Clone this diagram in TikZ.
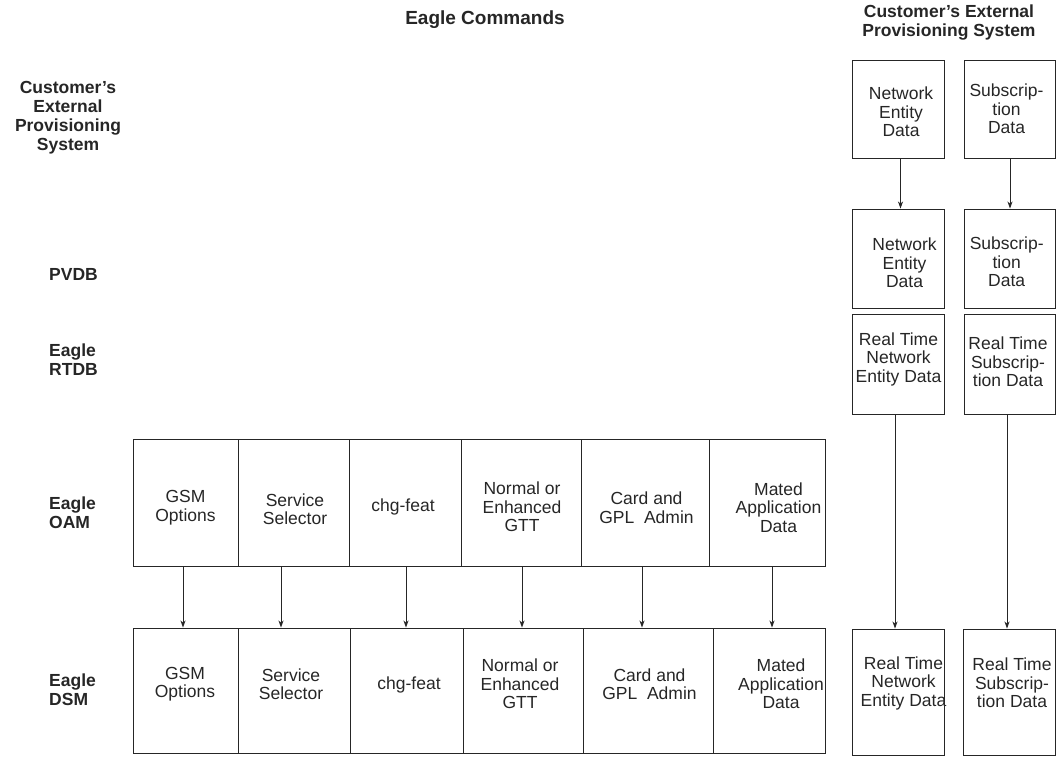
\documentclass[tikz,border=0pt]{standalone}
\usepackage{fontspec}
\setmainfont{Liberation Sans}
\usetikzlibrary{arrows.meta}
\definecolor{ink}{HTML}{262626}
\tikzset{
  cell/.style={draw=ink, line width=0.9pt, rectangle, inner sep=0pt},
  celltext/.style={text=ink, align=center, inner sep=0pt, font=\fontsize{17.5}{18.5}\selectfont},
  hdr/.style={text=ink, inner sep=0pt, font=\bfseries\fontsize{17.5}{19}\selectfont},
  arr/.style={draw=ink, line width=0.9pt, -{Stealth[length=7pt,width=5pt,inset=2pt]}}
}
\begin{document}
\begin{tikzpicture}[x=1pt,y=-1pt]
\useasboundingbox (0,0) rectangle (1062,757);

% headers
\node[hdr, font=\bfseries\fontsize{19}{20}\selectfont] (title) at (485,19.5) {Eagle Commands};
\node[hdr, align=center] (rhead) at (949,22.5) {Customer's External\\Provisioning System};
\node[hdr, align=center] (lcust) at (68,117.5) {Customer's\\External\\Provisioning\\System};
\node[hdr, align=left, anchor=west] (lpvdb) at (49,274) {PVDB};
\node[hdr, align=left, anchor=west] (lrtdb) at (49,360) {Eagle\\RTDB};
\node[hdr, align=left, anchor=west] (loam) at (49,512.5) {Eagle\\OAM};
\node[hdr, align=left, anchor=west] (ldsm) at (49,690) {Eagle\\DSM};

% OAM row cells: 133,238,349,461,581,709,825 ; y 439-566
\node[cell, minimum width=105pt, minimum height=127pt] (o1) at (185.5,502.5) {};
\node[cell, minimum width=111pt, minimum height=127pt] (o2) at (293.5,502.5) {};
\node[cell, minimum width=112pt, minimum height=127pt] (o3) at (405,502.5) {};
\node[cell, minimum width=120pt, minimum height=127pt] (o4) at (521,502.5) {};
\node[cell, minimum width=128pt, minimum height=127pt] (o5) at (645,502.5) {};
\node[cell, minimum width=116pt, minimum height=127pt] (o6) at (767,502.5) {};

\node[celltext] (to1) at (185.5,507.5) {GSM\\Options};
\node[celltext] (to2) at (295,509) {Service\\Selector};
\node[celltext] (to3) at (403,507) {chg-feat};
\node[celltext] (to4) at (522,507) {Normal or\\Enhanced\\GTT};
\node[celltext] (to5) at (646.5,507.5) {Card and\\GPL\ \ Admin};
\node[celltext] (to6) at (778.5,507.5) {Mated\\Application\\Data};

% DSM row cells: 133,238,350,463,583,713,825 ; y 628-753
\node[cell, minimum width=105pt, minimum height=125pt] (d1) at (185.5,690.5) {};
\node[cell, minimum width=112pt, minimum height=125pt] (d2) at (294,690.5) {};
\node[cell, minimum width=113pt, minimum height=125pt] (d3) at (406.5,690.5) {};
\node[cell, minimum width=120pt, minimum height=125pt] (d4) at (523,690.5) {};
\node[cell, minimum width=130pt, minimum height=125pt] (d5) at (648,690.5) {};
\node[cell, minimum width=112pt, minimum height=125pt] (d6) at (769,690.5) {};

\node[celltext] (td1) at (185,684) {GSM\\Options};
\node[celltext] (td2) at (291,684) {Service\\Selector};
\node[celltext] (td3) at (409,685) {chg-feat};
\node[celltext] (td4) at (520,684) {Normal or\\Enhanced\\GTT};
\node[celltext] (td5) at (649.5,684) {Card and\\GPL\ \ Admin};
\node[celltext] (td6) at (781,684) {Mated\\Application\\Data};

% OAM -> DSM arrows
\draw[arr] ([xshift=-2.5pt]o1.south) -- ([xshift=-2.5pt]o1.south |- d1.north);
\draw[arr] ([xshift=-12.5pt]o2.south) -- ([xshift=-12.5pt]o2.south |- d2.north);
\draw[arr] ([xshift=1pt]o3.south) -- ([xshift=1pt]o3.south |- d3.north);
\draw[arr] ([xshift=1pt]o4.south) -- ([xshift=1pt]o4.south |- d4.north);
\draw[arr] ([xshift=-3pt]o5.south) -- ([xshift=-3pt]o5.south |- d5.north);
\draw[arr] ([xshift=5pt]o6.south) -- ([xshift=5pt]o6.south |- d6.north);

% right columns
\node[cell, minimum width=92pt, minimum height=98pt] (ce1) at (898,109) {};
\node[cell, minimum width=91pt, minimum height=98pt] (ce2) at (1009.5,109) {};
\node[cell, minimum width=92pt, minimum height=99pt] (pv1) at (898,258.5) {};
\node[cell, minimum width=91pt, minimum height=99pt] (pv2) at (1009.5,258.5) {};
\node[cell, minimum width=92pt, minimum height=100pt] (rt1) at (898,364) {};
\node[cell, minimum width=91pt, minimum height=100pt] (rt2) at (1009.5,364) {};
\node[cell, minimum width=92pt, minimum height=126pt] (ds1) at (898,692) {};
\node[cell, minimum width=92pt, minimum height=126pt] (ds2) at (1009.5,692) {};

\node[celltext] (tce1) at (901,112) {Network\\Entity\\Data};
\node[celltext] (tce2) at (1006.5,109) {Subscrip-\\tion\\Data};
\node[celltext] (tpv1) at (904.5,263) {Network\\Entity\\Data};
\node[celltext] (tpv2) at (1006.7,262) {Subscrip-\\tion\\Data};
\node[celltext] (trt1) at (898.5,359) {Real Time\\Network\\Entity Data};
\node[celltext] (trt2) at (1008,362) {Real Time\\Subscrip-\\tion Data};
\node[celltext] (tds1) at (903.5,683) {Real Time\\Network\\Entity Data};
\node[celltext] (tds2) at (1012,683) {Real Time\\Subscrip-\\tion Data};

\draw[arr] ([xshift=2.5pt]ce1.south) -- ([xshift=2.5pt]ce1.south |- pv1.north);
\draw[arr] ([xshift=0.5pt]ce2.south) -- ([xshift=0.5pt]ce2.south |- pv2.north);
\draw[arr] ([xshift=-3pt]rt1.south) -- ([xshift=-3pt]rt1.south |- ds1.north);
\draw[arr] ([xshift=-2.5pt]rt2.south) -- ([xshift=-2.5pt]rt2.south |- ds2.north);
\end{tikzpicture}
\end{document}
